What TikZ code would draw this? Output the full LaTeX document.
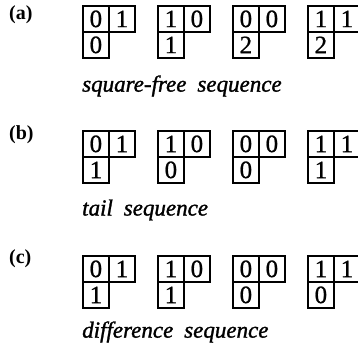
\documentclass[tikz,border=0pt]{standalone}
\usepackage{fontspec}
\setmainfont{Liberation Serif}
\newfontfamily\capfont[WordSpace=1.9,FakeBold=1.3]{Liberation Serif}
\newfontfamily\digitfont[FakeBold=0.8]{Liberation Serif}
\begin{document}
\begin{tikzpicture}[x=1pt,y=-1pt,
  cell/.style={draw, line width=1.8pt, minimum width=26pt, minimum height=26pt,
    inner sep=0pt, anchor=north west, font=\digitfont\fontsize{25}{26}\selectfont},
  tag/.style={anchor=west, inner sep=0pt, font=\bfseries\fontsize{20}{22}\selectfont},
  caption/.style={anchor=west, inner sep=0pt, font=\capfont\itshape\fontsize{23}{26}\selectfont}]
\useasboundingbox (0,0) rectangle (358,347);
% one L-shaped block of three cells
\newcommand{\lblock}[6]{%
  \node[cell] (#1tl) at (#2,#3) {#4};
  \node[cell] (#1tr) at (#2+26,#3) {#5};
  \node[cell] (#1bl) at (#2,#3+26) {#6};
}
% (a)
\node[tag] (la) at (9,15) {(a)};
\lblock{aA}{82}{5}{0}{1}{0}
\lblock{aB}{157}{5}{1}{0}{1}
\lblock{aC}{232}{5}{0}{0}{2}
\lblock{aD}{307}{5}{1}{1}{2}
\node[caption] (ca) at (82,86) {square-free sequence};
% (b)
\node[tag] (lb) at (9,135) {(b)};
\lblock{bA}{82}{130}{0}{1}{1}
\lblock{bB}{157}{130}{1}{0}{0}
\lblock{bC}{232}{130}{0}{0}{0}
\lblock{bD}{307}{130}{1}{1}{1}
\node[caption] (cb) at (82,210) {tail sequence};
% (c)
\node[tag] (lc) at (9,259) {(c)};
\lblock{cA}{82}{255}{0}{1}{1}
\lblock{cB}{157}{255}{1}{0}{1}
\lblock{cC}{232}{255}{0}{0}{0}
\lblock{cD}{307}{255}{1}{1}{0}
\node[caption] (cc) at (82,332) {difference sequence};
\end{tikzpicture}
\end{document}
